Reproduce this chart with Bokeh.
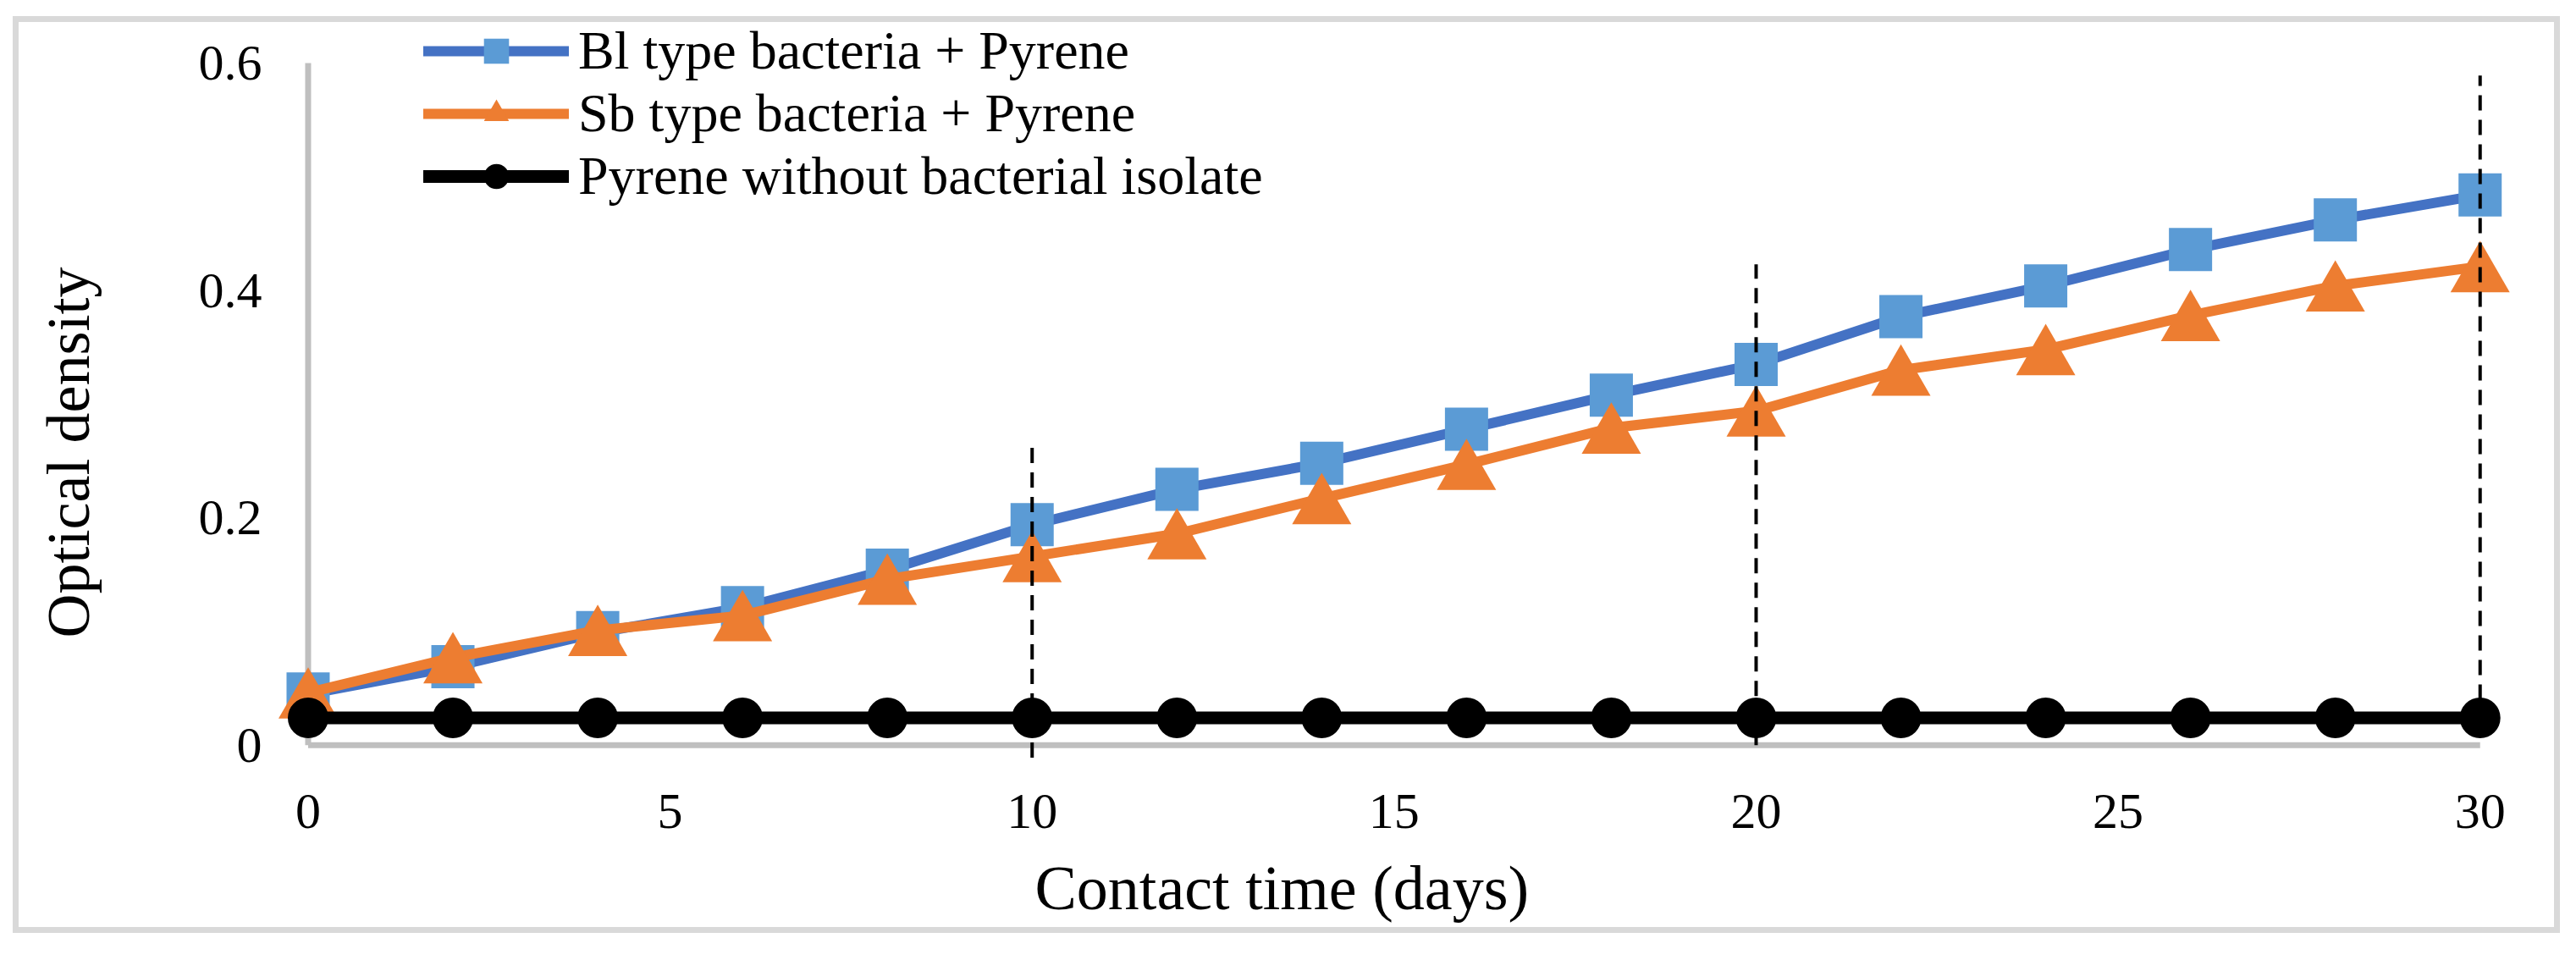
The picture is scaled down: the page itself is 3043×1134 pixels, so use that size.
import math
from bokeh.plotting import figure
from bokeh.models import Range1d, FixedTicker, Legend, LegendItem, ColumnDataSource, Title
from bokeh.transform import dodge
from bokeh.embed import file_html
from bokeh.resources import INLINE

# ---- data ----
days = [0, 2, 4, 6, 8, 10, 12, 14, 16, 18, 20, 22, 24, 26, 28, 30]
bl_values = [0.045, 0.069, 0.099, 0.121, 0.154, 0.194, 0.225, 0.248, 0.278, 0.308,
             0.335, 0.377, 0.404, 0.436, 0.462, 0.484]
sb_values = [0.046, 0.077, 0.101, 0.114, 0.146, 0.166, 0.186, 0.217, 0.247, 0.279,
             0.294, 0.330, 0.348, 0.378, 0.404, 0.421]
control_values = [0.024, 0.024, 0.024, 0.024, 0.024, 0.024, 0.024, 0.024, 0.024, 0.024,
                  0.024, 0.024, 0.024, 0.024, 0.024, 0.024]
series_labels = ["Bl type bacteria + Pyrene", "Sb type bacteria + Pyrene",
                 "Pyrene without bacterial isolate"]
x_ticks = [0, 5, 10, 15, 20, 25, 30]
y_ticks = [0, 0.2, 0.4, 0.6]
y_tick_labels = ["0", "0.2", "0.4", "0.6"]
marker_days = [10, 20, 30]
marker_tops = [0.264, 0.423, 0.589]
marker_bottoms = [-0.011, 0.0, 0.04]
x_title = "Contact time (days)"
y_title = "Optical density"

# ---- layout ----
W, H = 3035, 1109
ML, MR, MT, MB = 325, 63, 10, 189
X0, X1 = -0.45, 30.5
frame_h = H - MT - MB
Y0 = -0.03
Y1 = 0.6477
px_per_y = frame_h / (Y1 - Y0)

FONT = "Liberation Serif"
BLUE_LINE = "#4472C4"
BLUE_FILL = "#5B9BD5"
ORANGE = "#ED7D31"
GRAY_AXIS = "#BFBFBF"
FRAME_GRAY = "#D9D9D9"

# light-gray chart border painted behind a transparent canvas
border_css = ("inset 2px 6px 0 13px #ffffff, inset 2px 6px 0 20px " + FRAME_GRAY)

p = figure(width=W, height=H, x_range=Range1d(X0, X1), y_range=Range1d(Y0, Y1),
           output_backend="svg", toolbar_location=None,
           min_border_left=ML, min_border_right=MR, min_border_top=MT, min_border_bottom=MB,
           background_fill_alpha=0, border_fill_alpha=0,
           styles={"box-shadow": border_css, "background-color": "#ffffff"})
p.outline_line_color = None
p.grid.visible = False

for ax in (p.xaxis[0], p.yaxis[0]):
    ax.axis_line_color = None
    ax.major_tick_line_color = None
    ax.minor_tick_line_color = None
    ax.major_tick_out = 0
    ax.major_tick_in = 0
    ax.major_label_text_font = FONT
    ax.major_label_text_font_size = "60px"
    ax.major_label_text_color = "black"

p.xaxis.ticker = FixedTicker(ticks=x_ticks)
p.xaxis.major_label_standoff = 18
p.yaxis.ticker = FixedTicker(ticks=y_ticks)
p.yaxis.major_label_overrides = {t: l for t, l in zip(y_ticks, y_tick_labels)}
p.yaxis.major_label_standoff = 16

# axis titles (side-panel titles so they can sit off-centre like the reference)
p.add_layout(Title(text=" ", text_font_size="1px", standoff=22), "below")
p.add_layout(Title(text=x_title, align="left", offset=897, vertical_align="top",
                   standoff=4, text_font=FONT, text_font_size="74px",
                   text_font_style="normal", text_color="black"), "below")
p.add_layout(Title(text=" ", text_font_size="1px", standoff=103), "left")
p.add_layout(Title(text=y_title, align="left", offset=167, vertical_align="bottom",
                   standoff=10, text_font=FONT, text_font_size="72px",
                   text_font_style="normal", text_color="black"), "left")

# gray axis lines spanning the tick range
p.segment(x0=[x_ticks[0]], y0=[y_ticks[0]], x1=[x_ticks[-1]], y1=[y_ticks[0]],
          line_color=GRAY_AXIS, line_width=7)
p.segment(x0=[x_ticks[0]], y0=[y_ticks[0]], x1=[x_ticks[0]], y1=[y_ticks[-1]],
          line_color=GRAY_AXIS, line_width=7)

src = ColumnDataSource(dict(day=days, bl=bl_values, sb=sb_values, ctrl=control_values))

bl_line = p.line("day", "bl", source=src, line_color=BLUE_LINE, line_width=12,
                 line_cap="round", line_join="round")
bl_pts = p.scatter("day", "bl", source=src, marker="square", size=51,
                   fill_color=BLUE_FILL, line_color=None)

sb_line = p.line("day", "sb", source=src, line_color=ORANGE, line_width=12,
                 line_cap="round", line_join="round")
tri_size = 70
tri_shift = (tri_size * math.sqrt(3) / 2) / 6 / px_per_y
sb_pts = p.scatter("day", dodge("sb", -tri_shift, range=p.y_range), source=src,
                   marker="triangle", size=tri_size, fill_color=ORANGE, line_color=None)

ct_line = p.line("day", "ctrl", source=src, line_color="black", line_width=15,
                 line_cap="round", line_join="round")
ct_pts = p.scatter("day", "ctrl", source=src, marker="circle", size=48,
                   fill_color="black", line_color=None)

p.segment(x0=marker_days, y0=marker_bottoms, x1=marker_days, y1=marker_tops,
          line_color="black", line_width=4, line_dash="18 11")

legend = Legend(items=[
    LegendItem(label=series_labels[0], renderers=[bl_line, bl_pts]),
    LegendItem(label=series_labels[1], renderers=[sb_line, sb_pts]),
    LegendItem(label=series_labels[2], renderers=[ct_line, ct_pts]),
], location=(175, 675), orientation="vertical", padding=0, margin=0, spacing=0,
    glyph_width=172, glyph_height=74, label_height=74, label_standoff=11,
    label_text_font=FONT, label_text_font_size="64px", label_text_color="black",
    border_line_color=None, background_fill_alpha=0)
p.add_layout(legend)

open("out.html", "w").write(file_html(p, INLINE))
